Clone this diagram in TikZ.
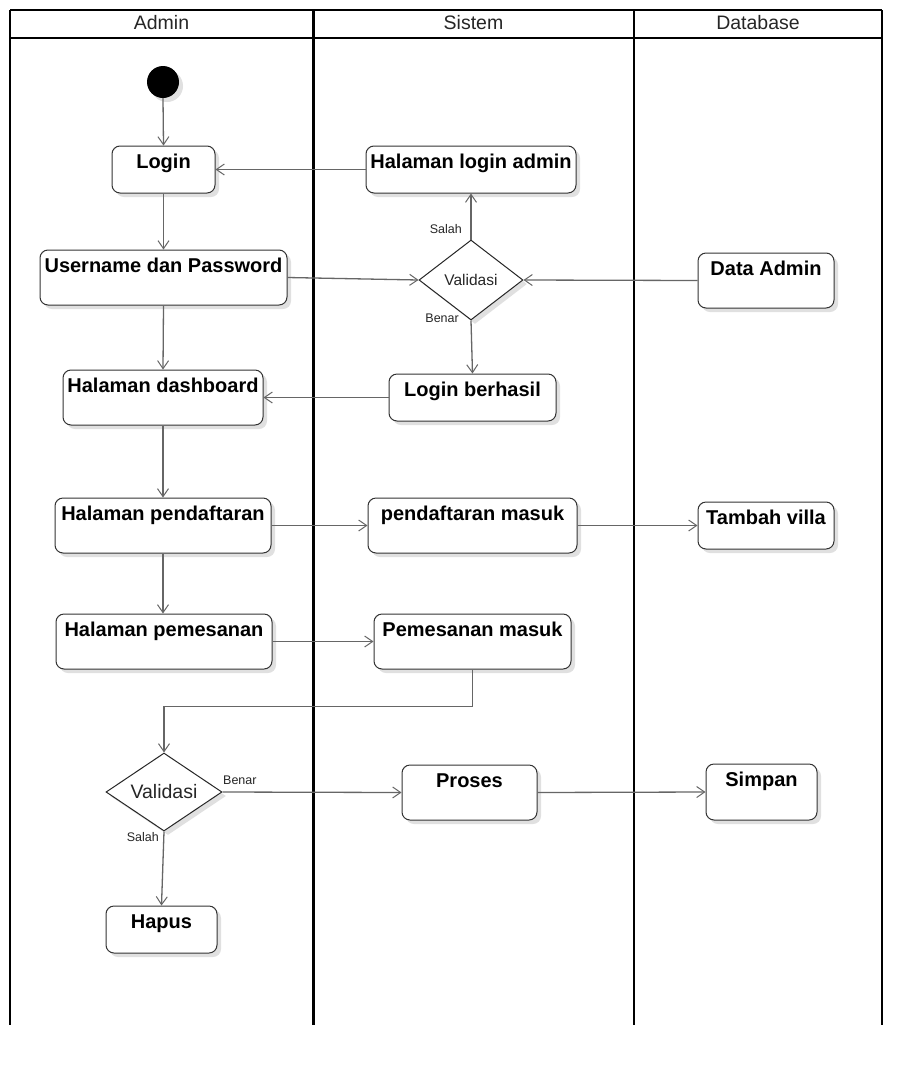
\documentclass[tikz,border=0pt]{standalone}
\usepackage{fontspec}
\setmainfont{Liberation Sans}
\usetikzlibrary{arrows.meta,shapes.geometric,shadows}
\begin{document}
\begin{tikzpicture}[x=1pt,y=-1pt,
  shd/.style={drop shadow={shadow xshift=4pt,shadow yshift=-4pt,fill=black!12,opacity=1}},
  box/.style={draw=black!80,line width=1pt,rounded corners=8pt,fill=white,shd,inner sep=0pt},
  lbl/.style={anchor=base,yshift=-22.5pt,font=\bfseries\fontsize{20}{23}\selectfont,inner sep=0pt},
  dia/.style={diamond,draw=black!85,line width=1pt,fill=white,shd,inner sep=0pt},
  conn/.style={draw=black!60,line width=1.3pt,-{Straight Barb[length=8pt,width=11pt,line width=1pt]}},
  lane/.style={line width=2pt,black},
  hdr/.style={font=\fontsize{19.5}{22}\selectfont,text=black!85},
  elbl/.style={font=\fontsize{12.5}{15}\selectfont,text=black!85,inner sep=0pt}]
\useasboundingbox (0,0) rectangle (922,1066);
\fill[white] (0,0) rectangle (922,1066);
% swimlanes
\draw[lane] (10,10) -- (882,10);
\draw[lane] (10,38) -- (882,38);
\draw[lane] (10,10) -- (10,1025);
\draw[line width=3pt] (313,10) -- (313,1025);
\draw[lane] (634,10) -- (634,1025);
\draw[lane] (882,10) -- (882,1025);
\node[hdr] (hA) at (161.5,23) {Admin};
\node[hdr] (hS) at (473.5,23) {Sistem};
\node[hdr] (hD) at (758,23) {Database};
% nodes
\node[circle,fill=black,minimum size=32pt,inner sep=0pt,shd] (start) at (163,82) {};
\node[box,minimum width=103pt,minimum height=47pt,label={[lbl]north:Login}] (login) at (163.5,169.5) {};
\node[box,minimum width=210pt,minimum height=47pt,label={[lbl]north:Halaman login admin}] (hla) at (471,169.5) {};
\node[box,minimum width=247pt,minimum height=55pt,label={[lbl]north:Username dan Password}] (user) at (163.5,277.5) {};
\node[dia,minimum width=104pt,minimum height=80pt,label={[font=\fontsize{15.5}{18}\selectfont,text=black!85]center:Validasi}] (val1) at (471,280) {};
\node[box,minimum width=136pt,minimum height=55pt,label={[lbl]north:Data Admin}] (dadmin) at (766,280.5) {};
\node[box,minimum width=200pt,minimum height=55pt,label={[lbl]north:Halaman dashboard}] (dash) at (163,397.5) {};
\node[box,minimum width=167pt,minimum height=47pt,label={[lbl]north:Login berhasil}] (lb) at (472.5,397.5) {};
\node[box,minimum width=216pt,minimum height=55pt,label={[lbl]north:Halaman pendaftaran}] (pend) at (163,525.5) {};
\node[box,minimum width=209pt,minimum height=55pt,label={[lbl]north:pendaftaran masuk}] (pmk) at (472.5,525.5) {};
\node[box,minimum width=136pt,minimum height=47pt,label={[lbl]north:Tambah villa}] (villa) at (766,525.5) {};
\node[box,minimum width=216pt,minimum height=55pt,label={[lbl]north:Halaman pemesanan}] (pems) at (164,641.5) {};
\node[box,minimum width=197pt,minimum height=55pt,label={[lbl]north:Pemesanan masuk}] (pmas) at (472.5,641.5) {};
\node[dia,minimum width=116pt,minimum height=78pt,label={[font=\fontsize{19.5}{22}\selectfont,text=black!85]center:Validasi}] (val2) at (164,792) {};
\node[box,minimum width=135pt,minimum height=55pt,label={[lbl]north:Proses}] (proses) at (469.5,792.5) {};
\node[box,minimum width=111pt,minimum height=56pt,label={[lbl]north:Simpan}] (simpan) at (761.5,792) {};
\node[box,minimum width=111pt,minimum height=47pt,label={[lbl]north:Hapus}] (hapus) at (161.5,929.5) {};
% connectors
\draw[conn] (start.south) -- (login.north);
\draw[conn] (hla.west) -- (login.east);
\draw[conn] (login.south) -- (user.north);
\draw[conn] (user.east) -- (val1.west);
\draw[conn] (dadmin.west) -- (val1.east);
\draw[conn] (val1.north) -- (hla.south);
\draw[conn] (val1.south) -- (lb.north);
\draw[conn] (user.south) -- (dash.north);
\draw[conn] (lb.west) -- (dash.east);
\draw[conn] (dash.south) -- (pend.north);
\draw[conn] (pend.east) -- (pmk.west);
\draw[conn] (pmk.east) -- (villa.west);
\draw[conn] (pend.south) -- (pems.north -| pend.south);
\draw[conn] (pems.east) -- (pmas.west);
\draw[conn] (pmas.south) -- ++(0,37) -| (val2.north);
\draw[conn] (val2.east) -- (proses.west);
\draw[conn] (proses.east) -- (simpan.west);
\draw[conn] (val2.south) -- (hapus.north);
% edge labels
\node[elbl,anchor=east] (s1) at (462,229) {Salah};
\node[elbl,anchor=east] (b1) at (459,318) {Benar};
\node[elbl,anchor=west] (b2) at (223,780) {Benar};
\node[elbl,anchor=east] (s2) at (159,837) {Salah};
\end{tikzpicture}
\end{document}
